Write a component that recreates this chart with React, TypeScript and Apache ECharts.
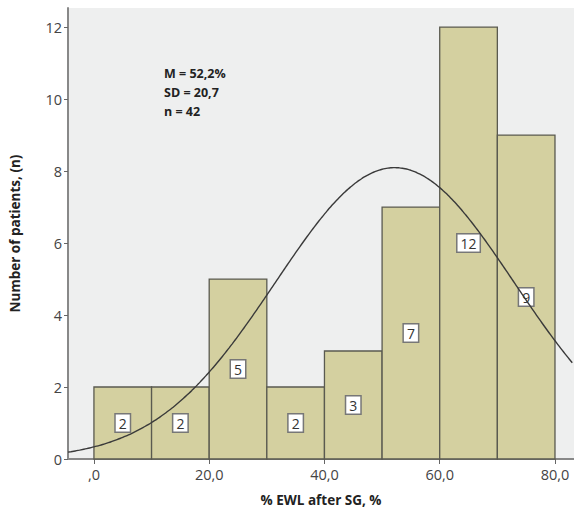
import React, { useEffect, useRef } from "react";
import * as echarts from "echarts";

const binStarts = [0, 10, 20, 30, 40, 50, 60, 70];
const binWidth = 10;
const counts = [2, 2, 5, 2, 3, 7, 12, 9];
const xTicks = [0, 20, 40, 60, 80];
const yTicks = [0, 2, 4, 6, 8, 10, 12];
const statLines = ["M = 52,2%", "SD = 20,7", "n = 42"];
const MEAN = 52.2;
const SD = 20.7;
const N = 42;
const X_MIN = -4.5;
const X_MAX = 83.3;

function normalCurve(): number[][] {
  const pts: number[][] = [];
  const k = (N * binWidth) / (SD * Math.sqrt(2 * Math.PI));
  for (let x = X_MIN; x <= X_MAX + 1e-9; x += 0.5) {
    const z = (x - MEAN) / SD;
    pts.push([x, k * Math.exp(-0.5 * z * z)]);
  }
  return pts;
}

const fmtX = (v: number) => (v === 0 ? ",0" : v.toFixed(1).replace(".", ","));

export default function App() {
  const ref = useRef<HTMLDivElement>(null);
  useEffect(() => {
    if (!ref.current) return;
    const chart = echarts.init(ref.current, undefined, { renderer: "svg" });
    const font = "'Open Sans', 'DejaVu Sans', sans-serif";
    const barData = binStarts.map((s, i) => [s, s + binWidth, counts[i]]);
    chart.setOption({
      animation: false,
      backgroundColor: "#ffffff",
      grid: {
        left: 66,
        top: 8,
        right: 0,
        bottom: 58,
        show: true,
        backgroundColor: "#eeefef",
        borderWidth: 0,
      },
      xAxis: {
        type: "value",
        min: X_MIN,
        max: X_MAX,
        name: "% EWL after SG, %",
        nameLocation: "middle",
        nameGap: 34,
        nameTextStyle: { fontFamily: font, fontWeight: "bold", fontSize: 13.5, color: "#222" },
        axisLine: { show: true, onZero: false, lineStyle: { color: "#888", width: 2 } },
        axisTick: { show: true, length: 5, customValues: xTicks, lineStyle: { color: "#666" } },
        axisLabel: {
          customValues: xTicks,
          formatter: (v: number) => fmtX(v),
          fontFamily: font,
          fontSize: 14.5,
          color: "#444",
          margin: 8,
        },
        splitLine: { show: false },
      },
      yAxis: {
        type: "value",
        min: 0,
        max: 12.53,
        name: "Number of patients, (n)",
        nameLocation: "middle",
        nameGap: 46,
        nameRotate: 90,
        nameTextStyle: { fontFamily: font, fontWeight: "bold", fontSize: 13.5, color: "#222" },
        axisLine: { show: true, onZero: false, lineStyle: { color: "#888", width: 2 } },
        axisTick: { show: true, length: 4, customValues: yTicks, lineStyle: { color: "#666" } },
        axisLabel: {
          customValues: yTicks,
          fontFamily: font,
          fontSize: 14.5,
          color: "#444",
          margin: 6,
        },
        splitLine: { show: false },
      },
      series: [
        {
          type: "custom",
          data: barData,
          renderItem: (params: any, api: any) => {
            const x0 = api.value(0);
            const x1 = api.value(1);
            const h = api.value(2);
            const p0 = api.coord([x0, h]);
            const p1 = api.coord([x1, 0]);
            const mid = api.coord([(x0 + x1) / 2, h / 2]);
            return {
              type: "group",
              children: [
                {
                  type: "rect",
                  shape: { x: p0[0], y: p0[1], width: p1[0] - p0[0], height: p1[1] - p0[1] },
                  style: { fill: "#d4d0a0", stroke: "#5a5a50", lineWidth: 1.3 },
                },
                {
                  type: "text",
                  x: mid[0],
                  y: mid[1],
                  style: {
                    text: String(h),
                    fontFamily: font,
                    fontSize: 14,
                    fill: "#333",
                    align: "center",
                    verticalAlign: "middle",
                    backgroundColor: "#ffffff",
                    borderColor: "#777",
                    borderWidth: 1.5,
                    padding: [2, 3, 1, 3],
                  },
                },
              ],
            };
          },
          z: 2,
        },
        {
          type: "line",
          data: normalCurve(),
          smooth: true,
          showSymbol: false,
          lineStyle: { color: "#3a3a3a", width: 1.4 },
          z: 3,
        },
      ],
      graphic: [
        {
          type: "group",
          left: 164,
          top: 67,
          children: statLines.map((t, i) => ({
            type: "text",
            x: 0,
            y: i * 19,
            style: { text: t, fontFamily: font, fontWeight: "bold", fontSize: 12.5, fill: "#222" },
          })),
        },
      ],
    });
    return () => chart.dispose();
  }, []);
  return (
    <div
      ref={ref}
      style={{ position: "fixed", left: 0, top: 0, width: 574, height: 517 }}
    />
  );
}
